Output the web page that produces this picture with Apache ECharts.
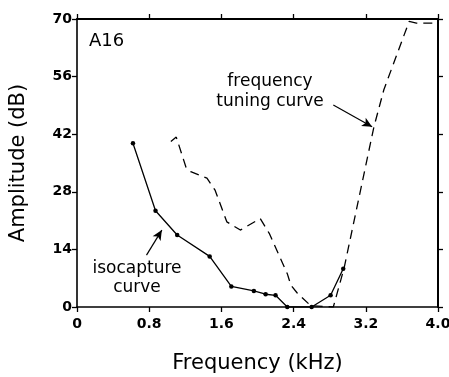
<!DOCTYPE html>
<html><head><meta charset="utf-8">
<script src="https://cdn.jsdelivr.net/npm/echarts@6/dist/echarts.min.js"></script>
<style>html,body{margin:0;padding:0;background:#fff}#c{width:449px;height:377px}</style>
</head><body><div id="c"></div>
<script>
const xTickLabels = ['0','0.8','1.6','2.4','3.2','4.0'];
const yTickLabels = ['0','14','28','42','56','70'];
const isoFreq = [0.62, 0.87, 1.11, 1.47, 1.71, 1.96, 2.09, 2.20, 2.33, 2.60, 2.81, 2.95];
const isoAmp  = [39.8, 23.4, 17.5, 12.3, 5.0, 3.9, 3.1, 2.85, 0, 0, 2.85, 9.3];
const ftcFreq = [1.04, 1.10, 1.21, 1.26, 1.44, 1.53, 1.66, 1.81, 2.03, 2.13, 2.33, 2.37, 2.44, 2.59, 2.84, 2.96, 3.29, 3.40, 3.68, 3.76, 4.0];
const ftcAmp  = [40.2, 41.3, 33.8, 32.9, 31.3, 28.4, 20.7, 18.7, 21.5, 17.9, 8.1, 5.3, 3.4, 0.3, 0, 9.5, 43.8, 52.8, 69.4, 69, 69];
const isoArrow = [[0.77, 12.6], [0.94, 18.7]];
const ftcArrow = [[2.84, 49.1], [3.27, 43.8]];

const chart = echarts.init(document.getElementById('c'), null, {renderer:'canvas'});
const font = '"DejaVu Sans", sans-serif';
const axisCommon = {
  type:'value', min:0,
  axisLine:{show:true, onZero:false, lineStyle:{color:'#000', width:1.6}},
  axisTick:{show:true, inside:false, length:5, lineStyle:{color:'#000', width:1.3}},
  splitLine:{show:false}
};
chart.setOption({
  animation:false,
  grid:{left:77, right:11, top:19, bottom:70, containLabel:false, outerBoundsMode:'none'},
  xAxis:[
    Object.assign({}, axisCommon, {position:'bottom', max:4, interval:0.8,
      name:'Frequency (kHz)', nameLocation:'middle', nameGap:46,
      nameTextStyle:{fontFamily:font, fontSize:21, color:'#000'},
      axisLabel:{margin:10, fontFamily:font, fontSize:14, fontWeight:'bold', color:'#000',
        formatter:(v,i)=>xTickLabels[i]}}),
    Object.assign({}, axisCommon, {position:'top', max:4, interval:0.8,
      axisLine:{show:true, onZero:false, lineStyle:{color:'#000', width:2.2}},
      axisLabel:{show:false}})
  ],
  yAxis:[
    Object.assign({}, axisCommon, {position:'left', max:70, interval:14,
      name:'Amplitude (dB)', nameLocation:'middle', nameGap:48,
      nameTextStyle:{fontFamily:font, fontSize:21, color:'#000'},
      axisLabel:{margin:5, fontFamily:font, fontSize:14, fontWeight:'bold', color:'#000',
        formatter:(v,i)=>yTickLabels[i]}}),
    Object.assign({}, axisCommon, {position:'right', max:70, interval:14,
      axisLine:{show:true, onZero:false, lineStyle:{color:'#000', width:2}},
      axisLabel:{show:false}})
  ],
  series:[
    {type:'line', name:'isocapture', data:isoFreq.map((f,i)=>[f, isoAmp[i]]),
     symbol:'circle', symbolSize:4.5, showSymbol:true,
     itemStyle:{color:'#000'}, lineStyle:{color:'#000', width:1.3},
     markLine:{silent:true, symbol:['none','arrow'], symbolSize:[7,10],
       lineStyle:{color:'#000', width:1.2, type:'solid'}, label:{show:false},
       data:[[{coord:isoArrow[0]}, {coord:isoArrow[1]}]]}},
    {type:'line', name:'ftc', data:ftcFreq.map((f,i)=>[f, ftcAmp[i]]),
     symbol:'none', lineStyle:{color:'#000', width:1.3, type:[9,6]},
     markLine:{silent:true, symbol:['none','arrow'], symbolSize:[7,10],
       lineStyle:{color:'#000', width:1.2, type:'solid'}, label:{show:false},
       data:[[{coord:ftcArrow[0]}, {coord:ftcArrow[1]}]]}}
  ],
  graphic:[
    {type:'text', x:89, y:32, style:{text:'A16', font:'18px '+font, fill:'#000'}},
    {type:'text', x:270, y:72, style:{text:'frequency\ntuning curve', font:'17px '+font, fill:'#000', align:'center', lineHeight:20}},
    {type:'text', x:137, y:259, style:{text:'isocapture\ncurve', font:'17px '+font, fill:'#000', align:'center', lineHeight:19}}
  ]
});
</script></body></html>
